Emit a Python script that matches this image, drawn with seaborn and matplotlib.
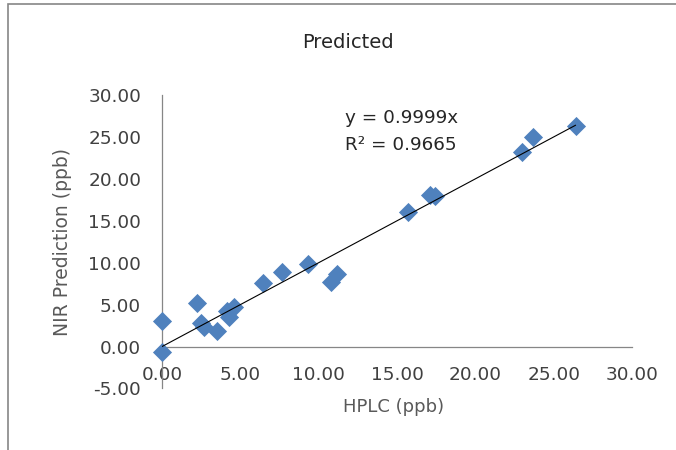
import matplotlib
matplotlib.use("Agg")
import matplotlib.pyplot as plt
import seaborn as sns
import pandas as pd
from matplotlib.patches import Rectangle

# HPLC reference values vs NIR predictions (ppb)
hplc = [0.0, 0.0, 2.25, 2.5, 2.7, 3.5, 4.15, 4.3, 4.6, 6.45, 7.65, 9.3,
        10.8, 11.2, 15.7, 17.1, 17.4, 23.0, 23.7, 26.4]
nir = [-0.6, 3.1, 5.2, 2.8, 2.3, 1.9, 4.3, 3.5, 4.7, 7.6, 8.9, 9.8,
       7.7, 8.7, 16.1, 18.1, 17.9, 23.2, 25.0, 26.3]
slope = 0.9999
r_squared = 0.9665

x_ticks = [0, 5, 10, 15, 20, 25, 30]
y_ticks = [-5, 0, 5, 10, 15, 20, 25, 30]

sns.set_theme(style="white")
plt.rcParams["font.family"] = ["DejaVu Sans"]

df = pd.DataFrame({"HPLC": hplc, "NIR": nir})

fig = plt.figure(figsize=(6.76, 4.5), dpi=100)
ax = fig.add_axes([0.23964, 0.13667, 0.69527, 0.65222])

sns.scatterplot(data=df, x="HPLC", y="NIR", marker="D", s=95,
                color="#4F81BD", edgecolor="#4F81BD", linewidth=0,
                ax=ax, clip_on=False, zorder=3)

# linear trendline through the origin
x_end = max(hplc)
ax.plot([0, x_end], [0, slope * x_end], color="black", lw=0.8, zorder=4)

ax.set_xlim(0, 30)
ax.set_ylim(-5, 30)
ax.set_xticks(x_ticks)
ax.set_yticks(y_ticks)
ax.set_xticklabels([f"{v:.2f}" for v in x_ticks])
ax.set_yticklabels([f"{v:.2f}" for v in y_ticks])

for s in ("top", "right"):
    ax.spines[s].set_visible(False)
ax.spines["bottom"].set_position(("data", 0))
for s in ("left", "bottom"):
    ax.spines[s].set_color("#868686")
    ax.spines[s].set_linewidth(0.9)

ax.tick_params(axis="x", length=0, pad=14, labelsize=13.3, colors="#404040")
ax.tick_params(axis="y", length=0, pad=15, labelsize=13.3, colors="#404040")
ax.grid(False)

ax.set_xlabel("")
ax.set_ylabel("")
fig.text(394 / 676, 1 - 407 / 450, "HPLC (ppb)", ha="center", va="center",
         fontsize=13, color="#595959")
fig.text(62 / 676, 1 - 242 / 450, "NIR Prediction (ppb)", ha="center",
         va="center", rotation=90, fontsize=13.5, color="#595959")
fig.text(348 / 676, 1 - 43 / 450, "Predicted", ha="center", va="center",
         fontsize=14, color="#262626")

ax.text(345 / 676, 1 - 118 / 450, f"y = {slope:.4f}x", transform=fig.transFigure,
        ha="left", va="center", fontsize=13.2, color="#262626")
ax.text(345 / 676, 1 - 145 / 450, f"R² = {r_squared:.4f}", transform=fig.transFigure,
        ha="left", va="center", fontsize=13.2, color="#262626")

# chart area border
fig.patches.append(Rectangle((8 / 676, -0.1), 1.2, 1 - 4 / 450 + 0.1,
                             transform=fig.transFigure, fill=False,
                             edgecolor="#868686", lw=1.2))

fig.savefig("out.png", dpi=100)
